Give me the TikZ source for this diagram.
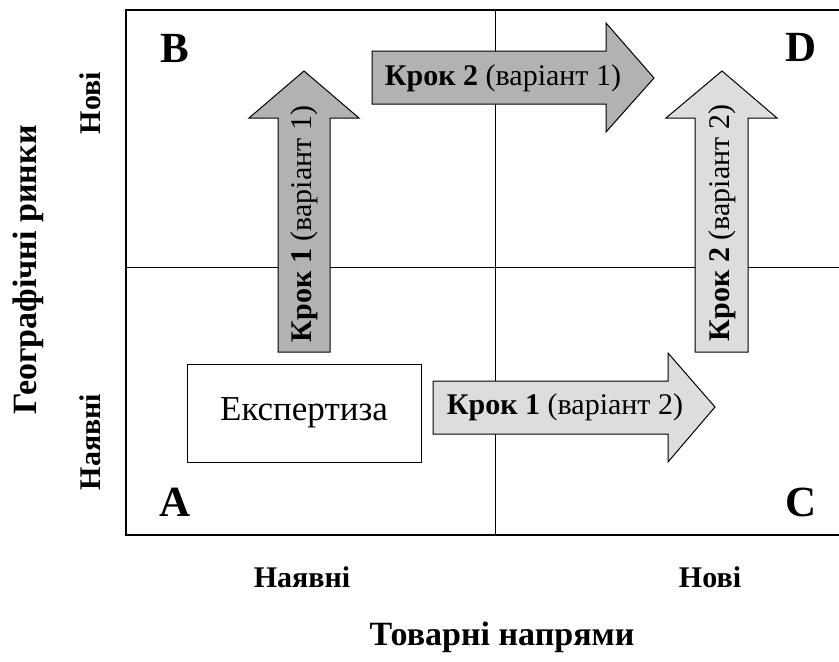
\documentclass[tikz,border=0pt]{standalone}
\usepackage{fontspec}
\setmainfont{Liberation Serif}
\definecolor{darkfill}{RGB}{178,178,178}
\definecolor{lightfill}{RGB}{221,221,221}
\begin{document}
\begin{tikzpicture}[x=1pt,y=-1pt,line width=1pt,
  quad/.style={inner sep=0pt,font=\fontsize{43}{43}\selectfont\bfseries},
  steptext/.style={inner sep=0pt,font=\fontsize{30}{30}\selectfont},
  axislabel/.style={inner sep=0pt,font=\fontsize{30}{30}\selectfont\bfseries}]
\useasboundingbox (0,0) rectangle (839,662);
% matrix
\draw[line width=1.2pt] (839,10) -- (126,10) -- (126,535) -- (839,535);
\draw (495,10) -- (495,535);
\draw (126,267) -- (839,267);
% arrows
\draw[fill=darkfill] (278,352) -- (278,118) -- (249,118) -- (304,71) -- (359,118) -- (330,118) -- (330,352) -- cycle;
\draw[fill=darkfill] (372,51) -- (606,51) -- (606,23) -- (654,78) -- (606,132) -- (606,104) -- (372,104) -- cycle;
\draw[fill=lightfill] (695,352) -- (695,118) -- (666,118) -- (722,71) -- (777,118) -- (748,118) -- (748,352) -- cycle;
\draw[fill=lightfill] (433,381) -- (668,381) -- (668,353) -- (715,407) -- (668,462) -- (668,434) -- (433,434) -- cycle;
\node[steptext,rotate=90] (k1v1) at (304,224) {\textbf{Крок 1} (варіант 1)};
\node[steptext] (k2v1) at (503,78) {\textbf{Крок 2} (варіант 1)};
\node[steptext,rotate=90] (k2v2) at (722,223) {\textbf{Крок 2} (варіант 2)};
\node[steptext] (k1v2) at (565,407) {\textbf{Крок 1} (варіант 2)};
% expertise
\node[draw,minimum width=234pt,minimum height=98pt,inner sep=0pt,font=\fontsize{35}{35}\selectfont] (exp) at (304,413) {Експертиза};
% quadrants
\node[quad] (qb) at (175,48) {B};
\node[quad] (qd) at (801,47) {D};
\node[quad] (qa) at (175,502) {A};
\node[quad] (qc) at (801,502) {C};
% axes
\node[axislabel] (xold) at (302,577) {Наявні};
\node[axislabel] (xnew) at (710,577) {Нові};
\node[axislabel,font=\fontsize{34}{34}\selectfont\bfseries] (xname) at (502,637) {Товарні напрями};
\node[axislabel,rotate=90] (yold) at (90,442) {Наявні};
\node[axislabel,rotate=90] (ynew) at (90,103) {Нові};
\node[axislabel,rotate=90,font=\fontsize{34}{34}\selectfont\bfseries] (yname) at (28,270) {Географічні ринки};
\end{tikzpicture}
\end{document}
